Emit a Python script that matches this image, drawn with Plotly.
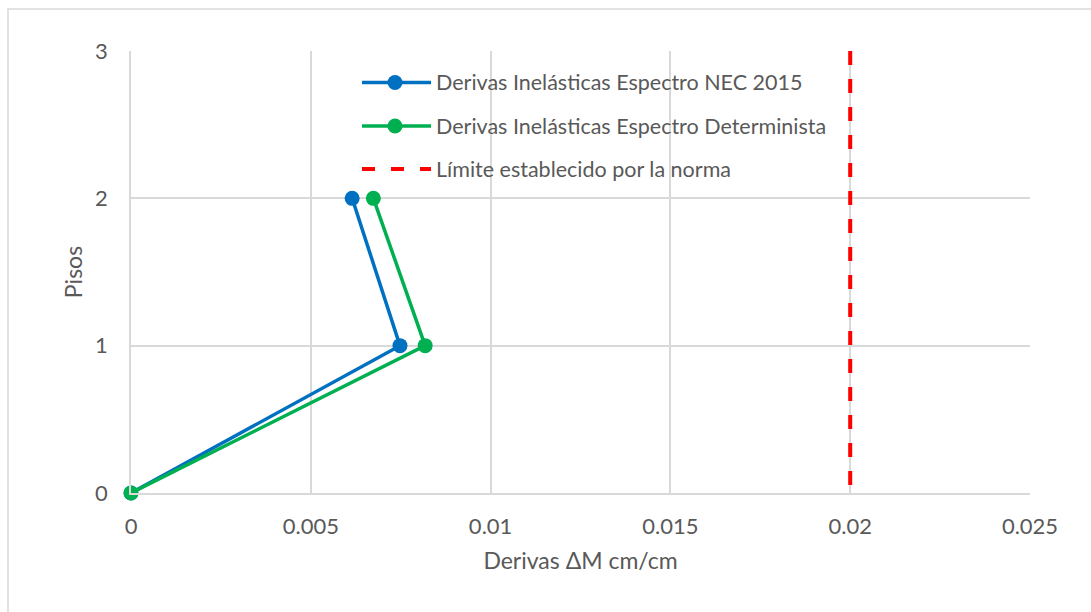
import plotly.graph_objects as go

# Story drift data (storey level vs. inelastic drift)
pisos = [0, 1, 2]
deriva_nec = [0.0, 0.00748, 0.00615]
deriva_det = [0.0, 0.00818, 0.00674]
limite_x = [0.02, 0.02]
limite_y = [3, 0]

nombres = [
    "Derivas Inelásticas Espectro NEC 2015",
    "Derivas Inelásticas Espectro Determinista",
    "Límite establecido por la norma",
]
colores = ["#0070C0", "#00B050", "#FF0000"]

FONT = "Lato"
GRIS_TXT = "#595959"
GRIS_GRID = "#d9d9d9"

W, H = 1091, 612
ML, MR, MT, MB = 131, 61, 51, 119
PW, PH = W - ML - MR, H - MT - MB


def px_x(p):
    return (p - ML) / PW


def px_y(p):
    return (H - MB - p) / PH


fig = go.Figure()
fig.add_trace(go.Scatter(x=deriva_nec, y=pisos, mode="lines+markers",
                         line=dict(color=colores[0], width=3.5),
                         marker=dict(size=15, color=colores[0]),
                         name=nombres[0], showlegend=False, cliponaxis=False))
fig.add_trace(go.Scatter(x=deriva_det, y=pisos, mode="lines+markers",
                         line=dict(color=colores[1], width=3.5),
                         marker=dict(size=15, color=colores[1]),
                         name=nombres[1], showlegend=False, cliponaxis=False))
fig.add_trace(go.Scatter(x=limite_x, y=limite_y, mode="lines",
                         line=dict(color=colores[2], width=4, dash="14px,14px"),
                         name=nombres[2], showlegend=False))

shapes = []
annotations = []

# outer chart border
shapes.append(dict(type="rect", xref="paper", yref="paper",
                   x0=px_x(8), x1=px_x(1200), y0=px_y(800), y1=px_y(9),
                   line=dict(color=GRIS_GRID, width=1.5), layer="below"))

# legend entries
filas_y = [82.5, 126, 169]
for i, (nom, col) in enumerate(zip(nombres, colores)):
    yy = px_y(filas_y[i])
    linea = dict(color=col, width=3.5 if i < 2 else 4)
    if i == 2:
        linea["dash"] = "13px,16px"
    shapes.append(dict(type="line", xref="paper", yref="paper",
                       x0=px_x(362), x1=px_x(431), y0=yy, y1=yy, line=linea))
    if i < 2:
        shapes.append(dict(type="circle", xref="paper", yref="paper",
                           xsizemode="pixel", ysizemode="pixel",
                           xanchor=px_x(395), yanchor=yy,
                           x0=-7.5, x1=7.5, y0=-7.5, y1=7.5,
                           fillcolor=col, line=dict(width=0)))
    annotations.append(dict(xref="paper", yref="paper", x=px_x(434), y=yy,
                            text=nom, showarrow=False, xanchor="left",
                            yanchor="middle",
                            font=dict(family=FONT, size=21.5, color=GRIS_TXT)))

fig.update_layout(
    width=W, height=H,
    margin=dict(l=ML, r=MR, t=MT, b=MB),
    paper_bgcolor="white", plot_bgcolor="white",
    font=dict(family=FONT, size=22, color=GRIS_TXT),
    shapes=shapes, annotations=annotations,
    showlegend=False,
)
fig.update_xaxes(
    range=[0, 0.025], tickvals=[0, 0.005, 0.01, 0.015, 0.02, 0.025],
    ticktext=["0", "0.005", "0.01", "0.015", "0.02", "0.025"],
    showgrid=True, gridcolor=GRIS_GRID, gridwidth=1.5,
    showline=True, linecolor=GRIS_GRID, linewidth=1.5,
    zeroline=False, ticks="", ticklabelstandoff=13,
    title=dict(text="Derivas ΔM cm/cm", standoff=15,
               font=dict(family=FONT, size=23, color=GRIS_TXT)),
)
fig.update_yaxes(
    range=[0, 3], tickvals=[0, 1, 2, 3],
    showgrid=True, gridcolor=GRIS_GRID, gridwidth=1.5,
    showline=True, linecolor=GRIS_GRID, linewidth=1.5,
    zeroline=False, ticks="", ticklabelstandoff=17,
    title=dict(text="Pisos", standoff=6,
               font=dict(family=FONT, size=23, color=GRIS_TXT)),
)

fig.write_html("out.html")
